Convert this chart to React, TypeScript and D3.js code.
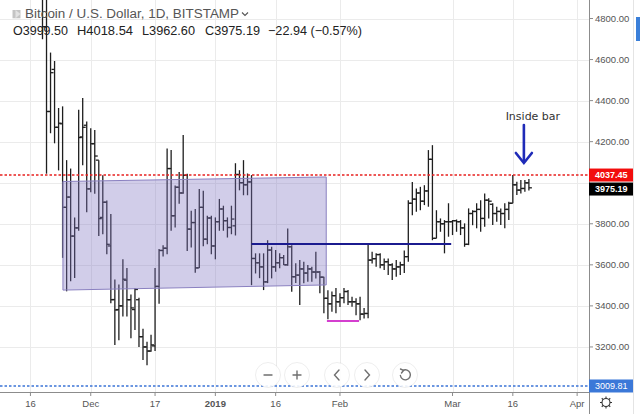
import React from "react";
import * as d3 from "d3";

const START = "2018-11-19";
const END = "2019-03-20";

const opens = [5620,4760,4347,4552,4270,4287,3880,3930,3740,3780,4223,4280,3970,4190,4110,3831,3905,3692,3431,3382,3400,3525,3430,3382,3430,3250,3200,3180,3205,3495,3670,3681,4069,3839,3978,3950,4036,3774,3806,3585,3880,3725,3828,3692,3810,3872,3815,3782,3790,4040,4000,3990,4004,3631,3610,3590,3517,3672,3590,3610,3635,3600,3688,3542,3550,3580,3560,3580,3565,3565,3540,3437,3410,3450,3420,3440,3470,3420,3420,3410,3360,3363,3623,3630,3650,3600,3615,3600,3580,3590,3600,3640,3900,3920,3950,3910,3960,4114,3729,3810,3800,3810,3810,3815,3810,3780,3700,3850,3860,3870,3826,3915,3895,3850,3860,3850,3870,3900,3990,3964,3972,3999.5];
const highs = [5620,4950,4634,4593,4364,4372,4110,4069,3831,4356,4413,4298,4265,4257,4110,4036,3913,3848,3528,3504,3627,3585,3455,3487,3440,3289,3225,3259,3584,3677,3695,4167,4159,3987,4052,4233,4044,3864,3872,3970,3961,3839,3839,3831,3921,3888,3831,3888,4095,4061,4110,4045,4037,3656,3656,3656,3720,3688,3672,3656,3648,3777,3695,3608,3623,3615,3599,3591,3664,3570,3542,3476,3470,3487,3462,3487,3477,3445,3437,3445,3390,3705,3664,3656,3656,3631,3631,3608,3623,3615,3670,3915,4004,3972,3980,3988,4159,4183,3866,3826,3818,3900,3818,3821,3818,3802,3875,3866,3900,3915,3948,3924,3900,3883,3875,3900,3907,4037.45,4005,4013,4013,4018.54];
const lows = [4699,4044,4241,4192,4060,3634,3471,3520,3536,3766,4085,3856,3954,3946,3741,3749,3651,3413,3209,3233,3348,3348,3242,3283,3200,3136,3111,3176,3180,3411,3640,3651,3766,3782,3897,3946,3667,3684,3561,3585,3691,3700,3651,3627,3766,3766,3733,3749,3743,3963,3939,3939,3501,3558,3535,3477,3511,3534,3566,3583,3599,3595,3469,3511,3404,3510,3518,3518,3534,3461,3364,3335,3372,3364,3394,3413,3404,3396,3355,3330,3338,3340,3607,3591,3583,3575,3550,3526,3542,3550,3560,3615,3842,3858,3866,3891,3883,3720,3729,3761,3656,3737,3745,3761,3745,3688,3696,3793,3778,3761,3786,3826,3794,3810,3794,3778,3818,3900,3940,3948,3956,3962.6];
const closes = [4760,4347,4536,4270,4290,3880,3930,3740,3780,4220,4270,3970,4190,4130,3825,3905,3700,3430,3380,3400,3530,3430,3390,3480,3250,3200,3180,3210,3495,3670,3681,4069,3839,3978,3950,4036,3774,3806,3585,3880,3725,3828,3692,3810,3872,3815,3782,3823,4040,4000,3990,4004,3631,3610,3590,3517,3672,3590,3610,3635,3600,3688,3542,3550,3580,3560,3580,3565,3565,3540,3437,3410,3450,3420,3440,3470,3420,3420,3410,3360,3363,3623,3630,3650,3600,3615,3600,3580,3590,3600,3640,3900,3920,3950,3910,3960,4114,3729,3810,3800,3810,3810,3815,3810,3780,3700,3850,3860,3870,3826,3915,3910,3850,3860,3850,3870,3900,3990,3964,3972,3999.5,3975.19];

const PRICE_TICKS = [3200, 3400, 3600, 3800, 4000, 4200, 4400, 4600, 4800];
const TIME_TICKS = ["2018-11-16", "2018-12-01", "2018-12-17", "2019-01-01", "2019-01-16", "2019-02-01", "2019-03-01", "2019-03-16", "2019-04-01"];
const TIME_LABELS = ["16", "Dec", "17", "2019", "16", "Feb", "Mar", "16", "Apr"];

const RECT_POINTS = [
  { date: "2018-11-24T02:00Z", price: 4006 },
  { date: "2019-01-28T14:00Z", price: 4028 },
  { date: "2019-01-28T14:00Z", price: 3502 },
  { date: "2018-11-24T02:00Z", price: 3477 },
];
const BLUE_LINE = { from: "2019-01-10T00:00Z", to: "2019-02-28T16:00Z", price: 3701 };
const MAGENTA_LINE = { from: "2019-01-28T18:00Z", to: "2019-02-05T18:00Z", price: 3326 };
const RED_LEVEL = 4037.45;
const LAST_PRICE = 3975.19;
const BLUE_LEVEL = 3009.81;
const INSIDE_DATE = "2019-03-19T00:00Z";

const W = 640, H = 414;
const PLOT_R = 589, PLOT_B = 392;

export default function App() {
  const dates = d3.utcDay.range(new Date(START), d3.utcDay.offset(new Date(END), 1));
  const x = d3.scaleUtc().domain([new Date(START), new Date(END)]).range([42.5, 528.9]);
  const y = d3.scaleLinear().domain([3000, 4800]).range([388, 18.5]);
  const fmt = d3.format(".2f");
  const barColor = "#1e1e1e";

  const rectPath = d3.line<{ date: string; price: number }>()
    .x((d) => x(new Date(d.date)))
    .y((d) => y(d.price))(RECT_POINTS) + "Z";

  const ix = x(new Date(INSIDE_DATE));
  const btnY = 375;
  const btns = [268, 297, 337, 367, 405];

  const boxTop = y(RED_LEVEL) - 6.5;
  const boxBottom = y(RED_LEVEL) + 20.5;
  const visibleTicks = PRICE_TICKS.filter((v) => {
    const py = y(v);
    return !(py > boxTop - 6 && py < boxBottom + 6) && Math.abs(py - y(BLUE_LEVEL)) > 12;
  });

  return (
    <svg width={W} height={H} style={{ position: "fixed", left: 0, top: 0, background: "#fff" }}
      fontFamily="'Liberation Sans', Arial, sans-serif">
      <defs>
        <clipPath id="plot"><rect x={0} y={0} width={PLOT_R} height={PLOT_B} /></clipPath>
      </defs>
      <rect x={0} y={0} width={W} height={H} fill="#fff" />
      {/* grid */}
      <g stroke="#ebebeb" strokeWidth={1}>
        {PRICE_TICKS.map((v) => (
          <line key={v} x1={0} x2={PLOT_R} y1={Math.round(y(v)) + 0.5} y2={Math.round(y(v)) + 0.5} />
        ))}
        {TIME_TICKS.map((t) => {
          const px = Math.round(x(new Date(t))) + 0.5;
          return <line key={t} x1={px} x2={px} y1={0} y2={PLOT_B} />;
        })}
      </g>
      <g clipPath="url(#plot)">
        {/* bars */}
        <g stroke={barColor} strokeWidth={1.3}>
          {dates.map((d, i) => {
            const px = x(d);
            return (
              <g key={i}>
                <line x1={px} x2={px} y1={y(highs[i])} y2={y(lows[i])} />
                <line x1={px - 3} x2={px} y1={y(opens[i])} y2={y(opens[i])} />
                <line x1={px} x2={px + 3} y1={y(closes[i])} y2={y(closes[i])} />
              </g>
            );
          })}
        </g>
        {/* rectangle */}
        <path d={rectPath} fill="rgba(128,116,194,0.36)" stroke="#8a80c0" strokeWidth={1} />
        {/* blue horizontal */}
        <line x1={x(new Date(BLUE_LINE.from))} x2={x(new Date(BLUE_LINE.to))}
          y1={y(BLUE_LINE.price)} y2={y(BLUE_LINE.price)} stroke="#1b1b8f" strokeWidth={2} />
        {/* magenta */}
        <line x1={x(new Date(MAGENTA_LINE.from))} x2={x(new Date(MAGENTA_LINE.to))}
          y1={y(MAGENTA_LINE.price)} y2={y(MAGENTA_LINE.price)} stroke="#d43fcf" strokeWidth={2} />
        {/* red dotted level */}
        <line x1={0} x2={PLOT_R} y1={y(RED_LEVEL)} y2={y(RED_LEVEL)} stroke="#e8211f" strokeWidth={1.6} strokeDasharray="2.5,2" />
        {/* blue dotted level */}
        <line x1={0} x2={PLOT_R} y1={y(BLUE_LEVEL)} y2={y(BLUE_LEVEL)} stroke="#3b74d6" strokeWidth={1.4} strokeDasharray="2.5,2" />
        {/* inside bar annotation */}
        <text x={ix + 8} y={120} textAnchor="middle" fontFamily="'DejaVu Sans', Verdana, sans-serif" fontSize={11} fill="#333">Inside bar</text>
        <g stroke="#1f2bb8" strokeWidth={2.6} fill="none" strokeLinecap="round">
          <line x1={ix - 1} x2={ix - 1} y1={125} y2={162} />
          <path d={`M${ix - 9},${153} L${ix - 1},${163} L${ix + 7},${153}`} />
        </g>
      </g>

      {/* header */}
      <path d="M12.5,10 H20.5 V18.3 H12.5 Z" fill="#c4c4c4" />
      <path d="M15.5,10 L20.5,14 L15.5,18.3 Z" fill="#e2e2e2" />
      <text x={25} y={18.3} fontSize={12} fill="#555" textLength={214} lengthAdjust="spacingAndGlyphs">Bitcoin / U.S. Dollar, 1D, BITSTAMP</text>
      <path d="M242,12.5 L245,15.5 L248,12.5" stroke="#555" strokeWidth={1.1} fill="none" />
      <g fontSize={12.5} fill="#222">
        <text x={13} y={35} textLength={55} lengthAdjust="spacingAndGlyphs">O3999.50</text>
        <text x={77} y={35} textLength={56} lengthAdjust="spacingAndGlyphs">H4018.54</text>
        <text x={142} y={35} textLength={53} lengthAdjust="spacingAndGlyphs">L3962.60</text>
        <text x={205} y={35} textLength={55} lengthAdjust="spacingAndGlyphs">C3975.19</text>
        <text x={268} y={35} textLength={94} lengthAdjust="spacingAndGlyphs">−22.94 (−0.57%)</text>
      </g>

      {/* zoom buttons */}
      <g>
        {btns.map((bx) => (
          <circle key={bx} cx={bx} cy={btnY} r={12.5} fill="rgba(255,255,255,0.9)" stroke="rgba(0,0,0,0.07)" />
        ))}
        <g stroke="#6f6f6f" strokeWidth={1.4} fill="none" strokeLinecap="round">
          <line x1={btns[0] - 4} x2={btns[0] + 4} y1={btnY} y2={btnY} />
          <line x1={btns[1] - 4} x2={btns[1] + 4} y1={btnY} y2={btnY} />
          <line x1={btns[1]} x2={btns[1]} y1={btnY - 4} y2={btnY + 4} />
          <path d={`M${btns[2] + 2},${btnY - 5} L${btns[2] - 2.5},${btnY} L${btns[2] + 2},${btnY + 5}`} />
          <path d={`M${btns[3] - 2},${btnY - 5} L${btns[3] + 2.5},${btnY} L${btns[3] - 2},${btnY + 5}`} />
          <path d={`M${btns[4] - 2},${btnY - 4.6} A5,5 0 1 1 ${btns[4] - 4.6},${btnY + 0.5}`} />
          <path d={`M${btns[4] - 4.5},${btnY - 6} L${btns[4] - 1.5},${btnY - 4.6} L${btns[4] - 3.5},${btnY - 2}`} />
        </g>
      </g>

      {/* axes */}
      <line x1={0} x2={PLOT_R} y1={PLOT_B + 0.5} y2={PLOT_B + 0.5} stroke="#8c8c8c" strokeWidth={1} />
      <line x1={PLOT_R + 0.5} x2={PLOT_R + 0.5} y1={0} y2={H} stroke="#8c8c8c" strokeWidth={1} />
      <line x1={633.5} x2={633.5} y1={0} y2={H} stroke="#e4e4e4" strokeWidth={1} />
      <rect x={636} y={17} width={4} height={24} fill="#3a7fd9" />
      <g fontSize={9.5} fill="#555">
        {visibleTicks.map((v) => (
          <g key={v}>
            <line x1={PLOT_R} x2={PLOT_R + 4} y1={y(v)} y2={y(v)} stroke="#8c8c8c" />
            <text x={595} y={y(v) + 3.3}>{fmt(v)}</text>
          </g>
        ))}
        {TIME_TICKS.map((t, i) => {
          const px = x(new Date(t));
          return (
            <g key={t}>
              <line x1={px} x2={px} y1={PLOT_B} y2={PLOT_B + 4} stroke="#8c8c8c" />
              <text x={px} y={406.5} textAnchor="middle" fontWeight={TIME_LABELS[i] === "2019" ? "bold" : "normal"}>{TIME_LABELS[i]}</text>
            </g>
          );
        })}
      </g>
      {/* price labels */}
      <g fontSize={9} fontWeight="bold" fill="#fff">
        <rect x={PLOT_R} y={y(RED_LEVEL) - 6.5} width={44} height={13} fill="#f20d0d" />
        <text x={595} y={y(RED_LEVEL) + 3.2}>{fmt(RED_LEVEL)}</text>
        <rect x={PLOT_R} y={y(RED_LEVEL) + 7.5} width={44} height={13} fill="#000" />
        <text x={595} y={y(RED_LEVEL) + 17.2}>{fmt(LAST_PRICE)}</text>
        <rect x={PLOT_R} y={y(BLUE_LEVEL) - 6.5} width={44} height={13} fill="#3b78d8" />
        <text x={595} y={y(BLUE_LEVEL) + 3.2} fontWeight="normal">{fmt(BLUE_LEVEL)}</text>
      </g>
      {/* gear */}
      <g stroke="#333" strokeWidth={1.1} fill="none">
        <circle cx={606} cy={402.5} r={4} />
        {d3.range(8).map((k) => {
          const a = (k * Math.PI) / 4;
          return <line key={k} x1={606 + Math.cos(a) * 4} y1={402.5 + Math.sin(a) * 4} x2={606 + Math.cos(a) * 6} y2={402.5 + Math.sin(a) * 6} />;
        })}
      </g>
    </svg>
  );
}
